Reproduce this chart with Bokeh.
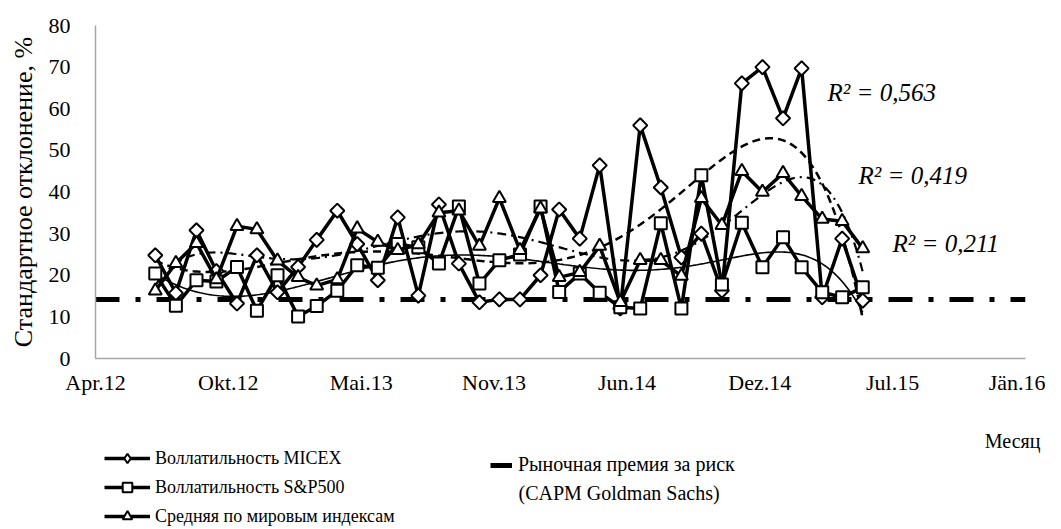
import numpy as np
import pandas as pd
from bokeh.plotting import figure
from bokeh.layouts import column
from bokeh.models import Range1d, FixedTicker, Legend, LegendItem, Label
from bokeh.embed import file_html
from bokeh.resources import INLINE

# ---------------- data ----------------
months = pd.period_range("2012-06", periods=36, freq="M").end_time.normalize()

micex = [24.8, 15.7, 30.8, 21.0, 13.2, 24.8, 15.9, 22.0, 28.5, 35.5, 27.5, 18.8,
         33.9, 15.1, 37.0, 22.8, 13.5, 14.2, 14.2, 20.0, 35.8, 28.8, 46.4, 12.0,
         56.0, 41.1, 24.3, 30.0, 16.3, 66.1, 70.0, 57.7, 69.7, 14.7, 28.8, 13.9]
sp500 = [20.4, 12.7, 18.8, 18.5, 22.0, 11.5, 20.0, 10.1, 12.6, 16.3, 22.4, 21.8,
         27.5, 26.7, 22.8, 36.5, 18.0, 23.6, 25.0, 36.5, 16.0, 20.4, 15.8, 12.3,
         12.0, 32.5, 12.0, 44.0, 17.8, 32.6, 21.9, 29.1, 21.9, 15.9, 14.7, 17.1]
world = [16.3, 22.9, 27.7, 19.0, 31.8, 31.0, 23.5, 19.5, 17.5, 19.0, 31.2, 28.0,
         26.0, 27.4, 35.0, 35.5, 27.0, 38.5, 26.0, 36.0, 19.5, 20.7, 27.0, 13.5,
         23.6, 23.6, 19.8, 38.5, 32.0, 45.0, 40.0, 44.5, 39.0, 33.5, 33.0, 26.4]
risk_premium = 14.2
r2_labels = ["R² = 0,563", "R² = 0,419", "R² = 0,211"]

tick_dates = ["2012-04-01", "2012-10-18", "2013-05-06", "2013-11-22",
              "2014-06-10", "2014-12-27", "2015-07-15", "2016-01-31"]
tick_labels = ["Apr.12", "Okt.12", "Mai.13", "Nov.13", "Jun.14", "Dez.14", "Jul.15", "Jän.16"]

series_names = ["Воллатильность MICEX", "Воллатильность S&P500", "Средняя по мировым индексам"]
premium_name = "Рыночная премия за риск"
premium_name2 = "(CAPM Goldman Sachs)"
x_title = "Месяц"
y_title = "Стандартное отклонение, %"

# ---------------- helpers ----------------
def to_ms(d):
    return pd.to_datetime(d).values.astype("datetime64[ms]").astype(np.int64).astype(float)

x = to_ms(months)
ticks = to_ms(tick_dates)

def poly_trend(xv, yv, deg=6, n=300):
    m, s = xv.mean(), xv.std()
    c = np.polyfit((xv - m) / s, np.asarray(yv), deg)
    xs = np.linspace(xv.min(), xv.max(), n)
    return xs, np.polyval(c, (xs - m) / s)

SERIF = "Liberation Serif"
W = 1045

p = figure(width=W, height=410, output_backend="svg", toolbar_location=None,
           x_range=Range1d(ticks[0], ticks[-1]), y_range=Range1d(0, 80),
           min_border_left=95, min_border_right=20, min_border_top=25, min_border_bottom=52)
p.frame_align = False
p.outline_line_color = None
p.xgrid.visible = False
p.ygrid.visible = False

# axes
p.xaxis.ticker = FixedTicker(ticks=list(ticks))
p.xaxis.major_label_overrides = {int(t): l for t, l in zip(ticks, tick_labels)}
p.yaxis.ticker = FixedTicker(ticks=list(range(0, 81, 10)))
for ax in (p.xaxis[0], p.yaxis[0]):
    ax.axis_line_color = "#a6a6a6"
    ax.axis_line_width = 1.5
    ax.major_tick_line_color = None
    ax.minor_tick_line_color = None
    ax.major_tick_in = 0
    ax.major_tick_out = 0
    ax.major_label_text_font = SERIF
    ax.major_label_text_font_size = "22px"
    ax.major_label_text_color = "black"
p.xaxis.major_label_standoff = 11
p.yaxis.major_label_standoff = 25
p.yaxis.axis_label = y_title
p.yaxis.axis_label_text_font = SERIF
p.yaxis.axis_label_text_font_size = "26px"
p.yaxis.axis_label_text_font_style = "normal"
p.yaxis.axis_label_text_color = "black"
p.yaxis.axis_label_standoff = 8

# risk premium line
p.line([ticks[0], ticks[-1]], [risk_premium, risk_premium], line_color="black",
       line_width=5, line_dash="24 16 5 16")

# trend lines
tx, ty = poly_trend(x, micex)
p.line(tx, ty, line_color="black", line_width=2.5, line_dash="8 5")
tx, ty = poly_trend(x, world)
p.line(tx, ty, line_color="black", line_width=2.2, line_dash="9 5 2 5")
tx, ty = poly_trend(x, sp500)
p.line(tx, ty, line_color="black", line_width=1.6)

# series
markers = [("square", np.pi / 4, 10), ("square", 0, 12), ("triangle", 0, 13)]
for vals, (mk, ang, sz) in zip([micex, sp500, world], markers):
    p.line(x, vals, line_color="black", line_width=3.5)
    p.scatter(x, vals, marker=mk, angle=ang, size=sz, fill_color="white",
              line_color="black", line_width=2)

for (lx, ly), t in zip([(732, 266), (763, 183), (797, 115)], r2_labels):
    p.add_layout(Label(x=lx, y=ly, x_units="screen", y_units="screen", text=t,
                       text_font=SERIF, text_font_style="italic", text_font_size="25px",
                       text_baseline="middle", text_color="black"))

# ---------------- legend panel ----------------
H2 = 118
q = figure(width=W, height=H2, output_backend="svg", toolbar_location=None,
           x_range=Range1d(0, W), y_range=Range1d(0, H2),
           min_border_left=0, min_border_right=0, min_border_top=0, min_border_bottom=0)
q.frame_align = False
q.axis.visible = False
q.xgrid.visible = False
q.ygrid.visible = False
q.outline_line_color = None

legend_markers = ["diamond", "square", "triangle"]
items = []
for n, mk in zip(series_names, legend_markers):
    rl = q.line([-100, -90], [-100, -100], line_color="black", line_width=3.5)
    rs = q.scatter([-100], [-100], marker=mk, size=12, fill_color="white",
                   line_color="black", line_width=2)
    items.append(LegendItem(label=n, renderers=[rl, rs]))
r_prem_leg = q.line([-100, -90], [-100, -100], line_color="black", line_width=5)

leg1 = Legend(items=items, location=(104, 0), orientation="vertical", glyph_width=46,
              glyph_height=24, label_height=24, spacing=5, padding=0, margin=0,
              label_standoff=5, border_line_color=None, background_fill_alpha=0,
              label_text_font=SERIF, label_text_font_size="18px", label_text_color="black")
q.add_layout(leg1)

leg2 = Legend(items=[LegendItem(label=premium_name, renderers=[r_prem_leg])],
              location=(490, 52), glyph_width=22, glyph_height=22, label_height=22,
              padding=0, margin=0, label_standoff=6, border_line_color=None,
              background_fill_alpha=0, label_text_font=SERIF, label_text_font_size="20px",
              label_text_color="black")
q.add_layout(leg2)

q.add_layout(Label(x=518, y=36, x_units="screen", y_units="screen", text=premium_name2,
                   text_font=SERIF, text_font_size="20px", text_baseline="middle",
                   text_color="black"))
q.add_layout(Label(x=1040, y=88, x_units="screen", y_units="screen", text=x_title,
                   text_font=SERIF, text_font_size="20px", text_baseline="middle",
                   text_align="right", text_color="black"))

open("out.html", "w").write(file_html(column(p, q, spacing=0), INLINE))
